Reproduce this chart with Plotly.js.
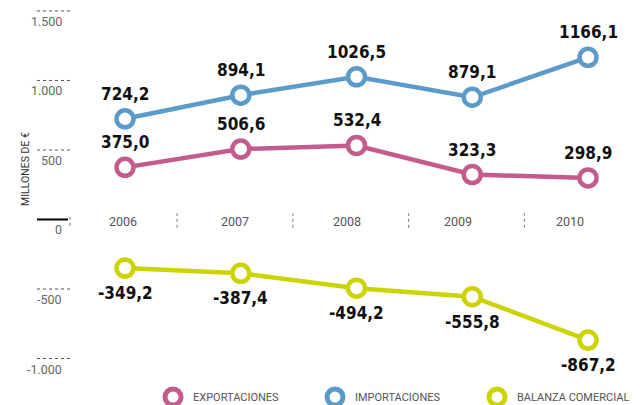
<!DOCTYPE html>
<html><head><meta charset="utf-8">
<script src="https://cdn.plot.ly/plotly-3.0.1.min.js"></script>
<style>html,body{margin:0;padding:0;background:#fff;}#chart{width:642px;height:405px;}</style>
</head><body><div id="chart"></div>
<script>
const years = ['2006', '2007', '2008', '2009', '2010'];
const exportaciones = [375.0, 506.6, 532.4, 323.3, 298.9];
const importaciones = [724.2, 894.1, 1026.5, 879.1, 1166.1];
const balanza = [-349.2, -387.4, -494.2, -555.8, -867.2];
const yTicks = [1500, 1000, 500, 0, -500, -1000];
const yTickLabels = ['1.500', '1.000', '500', '0', '-500', '-1.000'];
const seriesNames = ['EXPORTACIONES', 'IMPORTACIONES', 'BALANZA COMERCIAL'];
const colors = ['#c45b8d', '#5b9bc9', '#cdd300'];

const xIdx = years.map((_, i) => i);
const fmt = v => v.toFixed(1).replace('.', ',');
const series = [exportaciones, importaciones, balanza];

const traces = [];
series.forEach((vals, k) => {
  traces.push({
    x: xIdx, y: vals, type: 'scatter', mode: 'lines+markers',
    line: {color: colors[k], width: 4.5},
    marker: {size: 17, color: '#ffffff', line: {color: colors[k], width: 4.5}},
    showlegend: false, hoverinfo: 'skip', cliponaxis: false
  });
});
// legend-only entries (markers only)
series.forEach((vals, k) => {
  traces.push({
    x: [null], y: [null], type: 'scatter', mode: 'markers', name: seriesNames[k],
    marker: {size: 16, color: '#ffffff', line: {color: colors[k], width: 5}},
    showlegend: true
  });
});

const annotations = [];
const shapes = [];
const W = 640;
// data value labels
series.forEach((vals, k) => {
  vals.forEach((v, i) => {
    annotations.push({
      x: i, y: v, xref: 'x', yref: 'y', text: fmt(v), showarrow: false,
      yanchor: 'middle', yshift: k === 2 ? -25 : 25,
      font: {family: 'DejaVu Sans Condensed', size: 17, weight: 'bold', color: '#111'}
    });
  });
});
// year labels on zero line
years.forEach((y, i) => {
  annotations.push({
    x: i, y: 0, xref: 'x', yref: 'y', text: y, showarrow: false,
    yanchor: 'middle', yshift: -2, xshift: -2 - i * 4,
    font: {family: 'Roboto', size: 12.5, color: '#555'}
  });
  if (i < years.length - 1) {
    shapes.push({type: 'line', xref: 'x', yref: 'y', x0: i + 0.45, x1: i + 0.45, y0: -60, y1: 45,
      line: {color: '#777', width: 1, dash: 'dot'}, layer: 'above'});
  }
});
// small dotted mark at end of zero line
shapes.push({type: 'line', xref: 'paper', yref: 'y', x0: 70 / W, x1: 70 / W, y0: -45, y1: 35,
  line: {color: '#777', width: 1, dash: 'dot'}});
// y ticks (dotted short lines with label below)
yTicks.forEach((t, i) => {
  annotations.push({
    x: 64 / W, y: t, xref: 'paper', yref: 'y', text: yTickLabels[i], showarrow: false,
    xanchor: 'right', yanchor: 'top', yshift: -1,
    font: {family: 'Roboto', size: 12.5, color: '#666'}
  });
  shapes.push({type: 'line', xref: 'paper', yref: 'y', x0: 37 / W, x1: (t === 0 ? 68 : 71) / W, y0: t, y1: t,
    line: {color: t === 0 ? '#000' : '#555', width: t === 0 ? 2 : 1, dash: t === 0 ? 'solid' : 'dot'}});
});
annotations.push({
  x: 17 / W, y: 360, xref: 'paper', yref: 'y', text: 'MILLONES DE €', showarrow: false,
  textangle: -90, font: {family: 'Roboto', size: 10.5, color: '#333'}
});

const layout = {
  width: 642, height: 405,
  margin: {l: 0, r: 2, t: 4, b: 33, autoexpand: false},
  paper_bgcolor: '#fff', plot_bgcolor: '#fff',
  xaxis: {range: [-1.08, 4.449], visible: false, fixedrange: true},
  yaxis: {range: [-1097, 1550], visible: false, fixedrange: true},
  showlegend: true,
  legend: {orientation: 'h', x: 153 / W, xanchor: 'left', y: -0.068, yanchor: 'middle',
    entrywidth: 117, entrywidthmode: 'pixels', itemsizing: 'trace',
    font: {family: 'Roboto', size: 11, color: '#555'}, bgcolor: 'rgba(0,0,0,0)'},
  annotations: annotations, shapes: shapes
};
Plotly.newPlot('chart', traces, layout, {displayModeBar: false, staticPlot: true});
</script></body></html>
